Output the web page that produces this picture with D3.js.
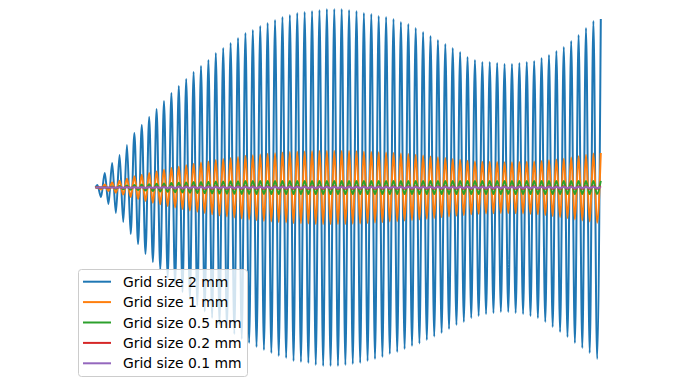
<!DOCTYPE html>
<html>
<head>
<meta charset="utf-8">
<script src="https://cdn.jsdelivr.net/npm/d3@7"></script>
<style>
  html, body { margin: 0; padding: 0; background: #ffffff; }
  svg { display: block; }
</style>
</head>
<body>
<svg id="chart" width="680" height="382"></svg>
<script>
// ---- data (displacement at each extremum, cycle k) ----
const seriesNames = ["Grid size 2 mm", "Grid size 1 mm", "Grid size 0.5 mm", "Grid size 0.2 mm", "Grid size 0.1 mm"];
const seriesColors = ["#1f77b4", "#ff7f0e", "#2ca02c", "#d62728", "#9467bd"];

const timeEnd = 68.25;           // cycles
const firstBump = [2.5, 0.5, 0.1, 0.0, 0.0];

const bluePeaks = [14.5,24.5,32.5,42.5,54.5,62.5,70.5,78.5,86.5,94.5,
  101.5,108.5,115.5,121.5,127.5,134.5,139.5,144.5,149.5,154.5,
  157.5,161.5,164.5,167.5,170.5,172.5,174.5,175.5,176.5,177.5,
  178.5,178.5,178.5,177.5,176.5,174.5,173.5,171.5,170.5,168.5,
  165.5,163.5,159.5,155.5,151.5,147.5,143.5,139.5,135.5,130.5,
  127.5,125.5,125.5,124.5,123.5,123.5,124.5,125.5,126.5,129.5,
  132.5,136.5,140.5,146.5,152.5,159.5,166.5,168.5];
const blueTroughs = [9.5,16.5,25.5,34.5,46.5,56.5,66.5,74.5,82,90,
  97.5,104.5,111.5,118,124,130.5,136.5,141.5,146.5,151.5,
  155.5,159.5,162.5,165.5,168.5,170.5,173.5,174.5,175.5,177.5,
  178.5,178.5,178.5,177.5,176.5,175.5,173.5,171.5,169.5,166.5,
  164.5,161.5,158.5,156,152.5,149,145.5,141.5,137.5,134.5,
  130.5,128.5,126.5,125.5,124.5,124.5,125.5,126.5,128.5,130.5,
  134.5,139.5,144.5,149.5,155.5,160.5,165.5,171.5];

const orangePeaks = [3.0,5.0,6.7,8.7,11.2,12.8,14.5,16.1,17.7,19.4,
  20.8,22.2,23.7,24.9,26.1,27.6,28.6,29.6,30.6,31.7,
  32.3,33.1,33.7,34.3,35.0,35.4,35.8,36.0,36.2,36.4,
  36.6,36.6,36.6,36.4,36.2,35.8,35.6,35.2,35.0,34.5,
  33.9,33.5,32.7,31.9,31.1,30.2,29.4,28.6,27.8,26.8,
  26.1,25.7,25.7,25.5,25.3,25.3,25.5,25.7,25.9,26.5,
  27.2,28.0,28.8,30.0,31.3,32.7,34.1,34.5];
const orangeTroughs = [1.9,3.4,5.2,7.1,9.5,11.6,13.6,15.3,16.8,18.5,
  20.0,21.4,22.9,24.2,25.4,26.8,28.0,29.0,30.0,31.1,
  31.9,32.7,33.3,33.9,34.5,35.0,35.6,35.8,36.0,36.4,
  36.6,36.6,36.6,36.4,36.2,36.0,35.6,35.2,34.7,34.1,
  33.7,33.1,32.5,32.0,31.3,30.5,29.8,29.0,28.2,27.6,
  26.8,26.3,25.9,25.7,25.5,25.5,25.7,25.9,26.3,26.8,
  27.6,28.6,29.6,30.6,31.9,32.9,33.9,35.2];

const greenPeaks = [0.5,0.9,1.4,1.9,2.4,2.9,3.3,3.7,4.1,4.5,
  4.8,5.1,5.4,5.6,5.8,6.0,6.1,6.2,6.3,6.4,
  6.5,6.5,6.5,6.6,6.6,6.6,6.6,6.6,6.6,6.6,
  6.6,6.6,6.6,6.6,6.6,6.6,6.6,6.6,6.6,6.6,
  6.6,6.6,6.6,6.6,6.6,6.6,6.6,6.6,6.6,6.6,
  6.6,6.6,6.6,6.6,6.6,6.6,6.6,6.6,6.6,6.6,
  6.6,6.6,6.6,6.6,6.6,6.6,6.6,6.6];
const greenTroughs = [0.3,0.7,1.2,1.7,2.2,2.7,3.1,3.5,3.9,4.3,
  4.7,5.0,5.3,5.5,5.7,5.9,6.1,6.2,6.3,6.4,
  6.5,6.5,6.5,6.6,6.6,6.6,6.6,6.6,6.6,6.6,
  6.6,6.6,6.6,6.6,6.6,6.6,6.6,6.6,6.6,6.6,
  6.6,6.6,6.6,6.6,6.6,6.6,6.6,6.6,6.6,6.6,
  6.6,6.6,6.6,6.6,6.6,6.6,6.6,6.6,6.6,6.6,
  6.6,6.6,6.6,6.6,6.6,6.6,6.6,6.6];

const redPeaks = [0.1,0.2,0.3,0.4,0.5,0.6,0.7,0.8,0.9,1.0,
  1.1,1.2,1.2,1.3,1.3,1.3,1.3,1.3,1.3,1.3,
  1.3,1.3,1.3,1.3,1.3,1.3,1.3,1.3,1.3,1.3,
  1.3,1.3,1.3,1.3,1.3,1.3,1.3,1.3,1.3,1.3,
  1.3,1.3,1.3,1.3,1.3,1.3,1.3,1.3,1.3,1.3,
  1.3,1.3,1.3,1.3,1.3,1.3,1.3,1.3,1.3,1.3,
  1.3,1.3,1.3,1.3,1.3,1.3,1.3,1.3];
const redTroughs = redPeaks;

const purplePeaks = [0.05,0.1,0.15,0.2,0.25,0.3,0.3,0.35,0.35,0.4,
  0.4,0.4,0.4,0.4,0.4,0.4,0.4,0.4,0.4,0.4,
  0.4,0.4,0.4,0.4,0.4,0.4,0.4,0.4,0.4,0.4,
  0.4,0.4,0.4,0.4,0.4,0.4,0.4,0.4,0.4,0.4,
  0.4,0.4,0.4,0.4,0.4,0.4,0.4,0.4,0.4,0.4,
  0.4,0.4,0.4,0.4,0.4,0.4,0.4,0.4,0.4,0.4,
  0.4,0.4,0.4,0.4,0.4,0.4,0.4,0.4];
const purpleTroughs = purplePeaks;

const peaksList = [bluePeaks, orangePeaks, greenPeaks, redPeaks, purplePeaks];
const troughsList = [blueTroughs, orangeTroughs, greenTroughs, redTroughs, purpleTroughs];

// ---- drawing ----
const W = 680, H = 382;
const svg = d3.select("#chart");

const x = d3.scaleLinear().domain([0, timeEnd]).range([95.5, 600.8]);
const y = d3.scaleLinear().domain([-178.5, 178.5]).range([366, 9]);

function buildPoints(i) {
  const pk = peaksList[i], tr = troughsList[i];
  const pts = [[0, 0], [0.25, firstBump[i]]];
  for (let k = 0; k < pk.length; k++) {
    pts.push([k + 0.75, -tr[k]]);
    pts.push([k + 1.25, pk[k]]);
  }
  return pts;
}

const line = d3.line()
  .x(d => x(d[0]))
  .y(d => y(d[1]))
  .curve(d3.curveMonotoneX);

const gLines = svg.append("g");
seriesNames.forEach((name, i) => {
  gLines.append("path")
    .datum(buildPoints(i))
    .attr("fill", "none")
    .attr("stroke", seriesColors[i])
    .attr("stroke-width", 2)
    .attr("stroke-linejoin", "round")
    .attr("stroke-linecap", "butt")
    .attr("d", line);
});

// ---- legend ----
const legend = svg.append("g");
legend.append("rect")
  .attr("x", 78.5).attr("y", 269.5)
  .attr("width", 169).attr("height", 107)
  .attr("rx", 3).attr("ry", 3)
  .attr("fill", "#ffffff").attr("fill-opacity", 0.8)
  .attr("stroke", "#cccccc").attr("stroke-width", 1);

const rowY = d3.scaleLinear().domain([0, 4]).range([281.7, 363.3]);
seriesNames.forEach((name, i) => {
  const yy = rowY(i);
  legend.append("line")
    .attr("x1", 83).attr("x2", 111)
    .attr("y1", yy).attr("y2", yy)
    .attr("stroke", seriesColors[i]).attr("stroke-width", 2);
  legend.append("text")
    .attr("x", 123).attr("y", yy + 5)
    .attr("font-family", "DejaVu Sans, sans-serif")
    .attr("font-size", 13.9)
    .attr("fill", "#000000")
    .text(name);
});
</script>
</body>
</html>
